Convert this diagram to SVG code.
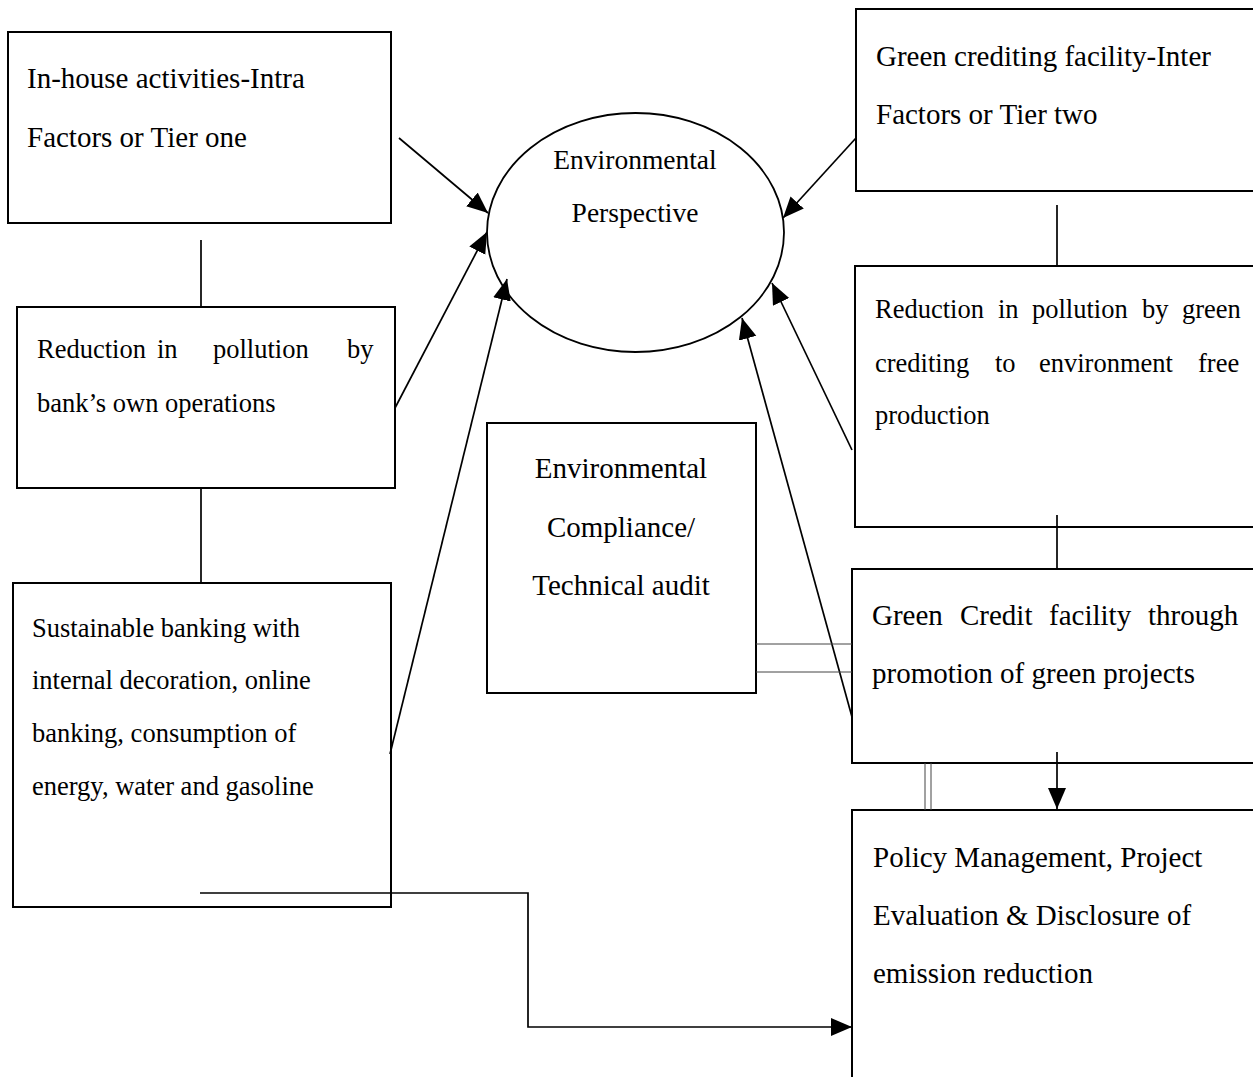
<svg xmlns="http://www.w3.org/2000/svg" width="1253" height="1077" viewBox="0 0 1253 1077">
<style>
.box{fill:none;stroke:#000;stroke-width:2}
.t{font-family:"Liberation Serif","Times New Roman",serif;font-size:29px;fill:#000}
.s{font-family:"Liberation Serif","Times New Roman",serif;font-size:26.5px;fill:#000}
.c{text-anchor:middle}
.ln{fill:none;stroke:#000;stroke-width:1.7}
.dl{fill:none;stroke:#444;stroke-width:1}
</style>
<defs>
<marker id="ah" markerUnits="userSpaceOnUse" markerWidth="24" markerHeight="20" refX="21" refY="9" orient="auto">
<path d="M0,0 L21,9 L0,18 z" fill="#000"/>
</marker>
</defs>
<rect width="1253" height="1077" fill="#fff"/>

<g id="box-inhouse">
<rect class="box" x="8" y="32" width="383" height="191"/>
<text class="t" x="27" y="88">In-house activities-Intra</text>
<text class="t" x="27" y="147">Factors or Tier one</text>
</g>

<g id="box-reduction-bank">
<rect class="box" x="17" y="307" width="378" height="181"/>
<text class="s" y="358"><tspan x="37">Reduction</tspan><tspan x="157">in</tspan><tspan x="213">pollution</tspan><tspan x="347">by</tspan></text>
<text class="s" x="37" y="412">bank’s own operations</text>
</g>

<g id="box-sustainable">
<rect class="box" x="13" y="583" width="378" height="324"/>
<text class="s" x="32" y="637">Sustainable banking with</text>
<text class="s" x="32" y="689">internal decoration, online</text>
<text class="s" x="32" y="742">banking, consumption of</text>
<text class="s" x="32" y="795">energy, water and gasoline</text>
</g>

<g id="ellipse-env">
<ellipse cx="635.5" cy="232.5" rx="148.5" ry="119.5" fill="none" stroke="#000" stroke-width="1.8"/>
<text class="t c" x="635" y="169" style="font-size:27.5px">Environmental</text>
<text class="t c" x="635" y="222" style="font-size:27.5px">Perspective</text>
</g>

<g id="box-compliance">
<rect class="box" x="487" y="423" width="269" height="270"/>
<text class="t c" x="621" y="478">Environmental</text>
<text class="t c" x="621" y="537">Compliance/</text>
<text class="t c" x="621" y="595">Technical audit</text>
</g>

<g id="box-green-crediting">
<rect class="box" x="856" y="9" width="410" height="182"/>
<text class="t" x="876" y="66">Green crediting facility-Inter</text>
<text class="t" x="876" y="124">Factors or Tier two</text>
</g>

<g id="box-reduction-green">
<rect class="box" x="855" y="266" width="410" height="261"/>
<text class="s" y="318"><tspan x="875">Reduction</tspan><tspan x="998">in</tspan><tspan x="1032">pollution</tspan><tspan x="1142">by</tspan><tspan x="1182">green</tspan></text>
<text class="s" y="372"><tspan x="875">crediting</tspan><tspan x="995">to</tspan><tspan x="1039">environment</tspan><tspan x="1198">free</tspan></text>
<text class="s" x="875" y="424">production</text>
</g>

<g id="box-green-credit">
<rect class="box" x="852" y="569" width="410" height="194"/>
<text class="t" y="625"><tspan x="872">Green</tspan><tspan x="960">Credit</tspan><tspan x="1049">facility</tspan><tspan x="1148">through</tspan></text>
<text class="t" x="872" y="683">promotion of green projects</text>
</g>

<g id="box-policy">
<rect class="box" x="852" y="810" width="410" height="280"/>
<text class="t" x="873" y="867">Policy Management, Project</text>
<text class="t" x="873" y="925">Evaluation &amp; Disclosure of</text>
<text class="t" x="873" y="983">emission reduction</text>
</g>

<g id="connectors">
<line class="ln" x1="201" y1="240" x2="201" y2="307"/>
<line class="ln" x1="201" y1="488" x2="201" y2="583"/>
<line class="ln" x1="1057" y1="205" x2="1057" y2="266"/>
<line class="ln" x1="1057" y1="515" x2="1057" y2="568"/>
<line class="ln" x1="399" y1="138" x2="488" y2="213" marker-end="url(#ah)"/>
<line class="ln" x1="395" y1="408" x2="487" y2="232" marker-end="url(#ah)"/>
<line class="ln" x1="390" y1="754" x2="507" y2="279" marker-end="url(#ah)"/>
<line class="ln" x1="852" y1="717" x2="742" y2="318" marker-end="url(#ah)"/>
<line class="ln" x1="852" y1="450" x2="772" y2="283" marker-end="url(#ah)"/>
<line class="ln" x1="856" y1="138" x2="783" y2="218" marker-end="url(#ah)"/>
<line class="ln" x1="1057" y1="752" x2="1057" y2="809" marker-end="url(#ah)"/>
<polyline class="ln" points="200,893 528,893 528,1027 852,1027" marker-end="url(#ah)"/>
<line class="dl" x1="756" y1="644" x2="852" y2="644"/>
<line class="dl" x1="756" y1="672" x2="852" y2="672"/>
<line class="dl" x1="925" y1="763" x2="925" y2="810"/>
<line class="dl" x1="931" y1="763" x2="931" y2="810"/>
</g>
</svg>
